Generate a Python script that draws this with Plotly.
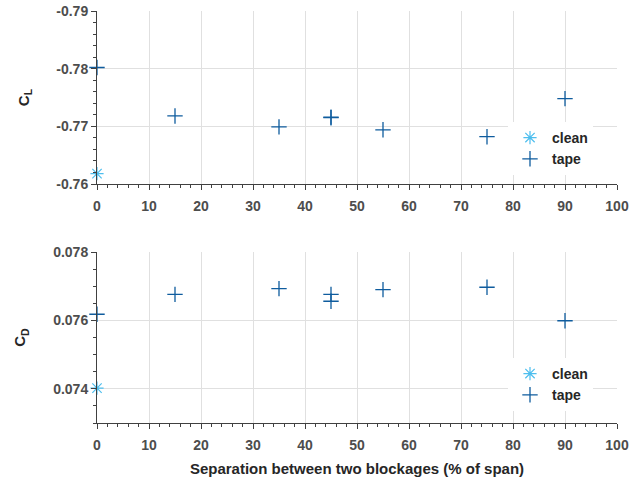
import plotly.graph_objects as go

# Data
sep_clean = [0]
cl_clean = [-0.7618]
cd_clean = [0.07402]

sep_tape = [0, 15, 35, 45, 45, 55, 75, 90]
cl_tape = [-0.7802, -0.7718, -0.7699, -0.7716, -0.7715, -0.7694, -0.7682, -0.7748]
cd_tape = [0.07618, 0.07676, 0.07693, 0.07676, 0.07656, 0.07690, 0.07697, 0.07599]

x_ticks = [0, 10, 20, 30, 40, 50, 60, 70, 80, 90, 100]

clean_color = "#4DBEEE"
tape_color = "#0F5C9E"

fig = go.Figure()

def add_pair(xc, yc, xt, yt, xa, ya, leg):
    fig.add_trace(go.Scatter(x=xc, y=yc, mode="markers", name="clean",
                             xaxis=xa, yaxis=ya, legend=leg,
                             marker=dict(symbol="asterisk-open", size=11, color=clean_color,
                                         line=dict(width=1.2, color=clean_color)),
                             cliponaxis=False))
    fig.add_trace(go.Scatter(x=xt, y=yt, mode="markers", name="tape",
                             xaxis=xa, yaxis=ya, legend=leg,
                             marker=dict(symbol="cross-thin-open", size=11, color=tape_color,
                                         line=dict(width=1.3, color=tape_color)),
                             cliponaxis=False))

add_pair(sep_clean, cl_clean, sep_tape, cl_tape, "x", "y", "legend")
add_pair(sep_clean, cd_clean, sep_tape, cd_tape, "x2", "y2", "legend2")

tick_font = dict(family="Liberation Sans, Arial", size=14, color="#4d4d4d", weight="bold")
title_font = dict(family="Liberation Sans, Arial", size=15, color="#262626", weight="bold")
grid_c = "#e0e0e0"
line_c = "#404040"

xcommon = dict(range=[0, 100], tickvals=x_ticks, showgrid=True, gridcolor=grid_c,
               showline=True, linecolor=line_c, linewidth=1, ticks="outside", ticklen=5,
               tickcolor=line_c, tickfont=tick_font, zeroline=False, automargin=False,
               ticklabelstandoff=4,
               minor=dict(dtick=2, ticks="outside", ticklen=3, tickcolor=line_c, showgrid=False),
               domain=[97/641, 617/641])
ycommon = dict(showgrid=True, gridcolor=grid_c, showline=True, linecolor=line_c, linewidth=1,
               ticks="outside", ticklen=5, tickcolor=line_c, tickfont=tick_font, zeroline=False,
               automargin=False)

leg_font = dict(family="Liberation Sans, Arial", size=14, color="#262626", weight="bold")

fig.update_layout(
    width=641, height=480,
    margin=dict(l=0, r=0, t=0, b=0, autoexpand=False),
    paper_bgcolor="white", plot_bgcolor="white",
    showlegend=True,
    xaxis=dict(**xcommon, anchor="y"),
    yaxis=dict(**ycommon, range=[-0.76, -0.79], tickvals=[-0.79, -0.78, -0.77, -0.76],
               ticktext=["-0.79", "-0.78", "-0.77", "-0.76"],
               minor=dict(dtick=0.002, ticks="outside", ticklen=3, tickcolor=line_c, showgrid=False),
               domain=[1-184/480, 1-11/480], anchor="x",
               title=dict(text="C<sub>L</sub>", font=title_font, standoff=23)),
    xaxis2=dict(**xcommon, anchor="y2",
                title=dict(text="Separation between two blockages (% of span)", font=title_font, standoff=11)),
    yaxis2=dict(**ycommon, range=[0.073, 0.078], tickvals=[0.074, 0.076, 0.078],
                ticktext=["0.074", "0.076", "0.078"],
                minor=dict(dtick=0.0005, ticks="outside", ticklen=3, tickcolor=line_c, showgrid=False),
                domain=[1-423/480, 1-252/480], anchor="x2",
                title=dict(text="C<sub>D</sub>", font=title_font, standoff=23)),
    legend=dict(x=508/641, y=1-122/480, xanchor="left", yanchor="top", itemwidth=34,
                bgcolor="white", font=leg_font, tracegroupgap=0),
    legend2=dict(x=508/641, y=1-358/480, xanchor="left", yanchor="top", itemwidth=34,
                 bgcolor="white", font=leg_font, tracegroupgap=0),
)

fig.write_html("out.html")
